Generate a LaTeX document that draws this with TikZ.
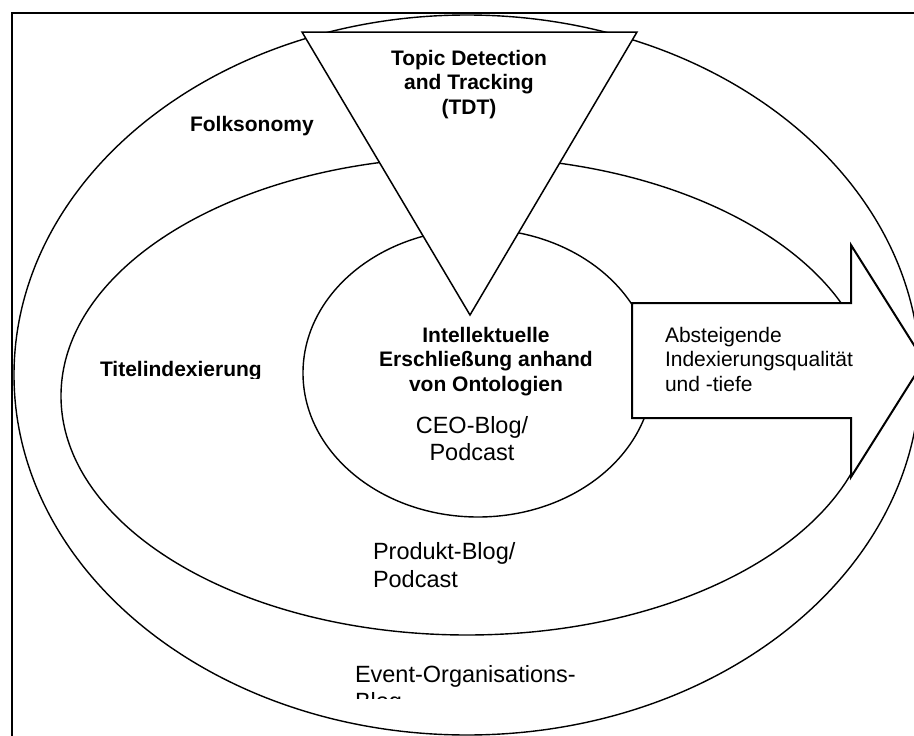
\documentclass[tikz,border=0pt]{standalone}
\usepackage{fontspec}
\setmainfont{Liberation Sans}
\usetikzlibrary{shapes.geometric}

\begin{document}
\begin{tikzpicture}[
    x=1pt, y=-1pt,
    every node/.style={inner sep=0pt, outer sep=0pt},
    ring/.style    ={draw=black, ellipse, line width=1.4pt},
    zone/.style    ={font=\fontsize{21}{24.5}\selectfont\bfseries, align=center, anchor=base},
    blog/.style    ={font=\fontsize{23.5}{27.5}\selectfont, align=left, anchor=base west},
    funnel/.style  ={draw=black, fill=white, line width=1.5pt},
    bigarrow/.style={draw=black, fill=white, line width=2pt},
]

\useasboundingbox (0,0) rectangle (914,736);
\clip (0,0) rectangle (914,736);

% ========== FRAME ==========
\draw[line width=2pt] (12,760) -- (12,13) -- (940,13);

% ========== RINGS ==========
\node[ring, minimum width=906pt, minimum height=720pt] (folk)  at (467,375) {};
\node[ring, minimum width=812pt, minimum height=478pt] (title) at (467,396) {};
\node[ring, minimum width=350pt, minimum height=288pt] (onto)  at (478,373) {};

% ========== TDT FUNNEL ==========
\draw[funnel] (302,32) coordinate (funnelL) -- (637,32) coordinate (funnelR)
    -- (470,315) coordinate (funnelTip) -- cycle;
\node[zone] (tdt) at (469,114) {Topic Detection\\and Tracking\\(TDT)};

% ========== RING LABELS ==========
\node[zone, anchor=base west] (folklabel) at (190,131) {Folksonomy};
\begin{scope}
  \clip (90,340) rectangle (280,378);
  \node[zone, anchor=base west] (titlelabel) at (100,376) {Titelindexierung};
\end{scope}
\node[zone] (ontolabel) at (486,391) {Intellektuelle\\Erschließung anhand\\von Ontologien};

% ========== BLOG TYPES ==========
\node[blog, align=center, anchor=base] (ceo) at (472,460.5) {CEO-Blog/\\Podcast};
\node[blog] (produkt) at (373,587) {Produkt-Blog/\\Podcast};
\begin{scope}
  \clip (340,650) rectangle (620,698);
  \node[blog] (event) at (355,709.5) {Event-Organisations-\\Blog};
\end{scope}

% ========== QUALITY ARROW ==========
\draw[bigarrow] (632,303) -- (851,303) -- (851,245) -- (924,361)
    -- (851,477) -- (851,418) -- (632,418) -- cycle;
\node[font=\fontsize{21}{24.5}\selectfont, align=left, anchor=base west] (quality)
    at (665,391) {Absteigende\\Indexierungsqualität\\und -tiefe};

\end{tikzpicture}
\end{document}
